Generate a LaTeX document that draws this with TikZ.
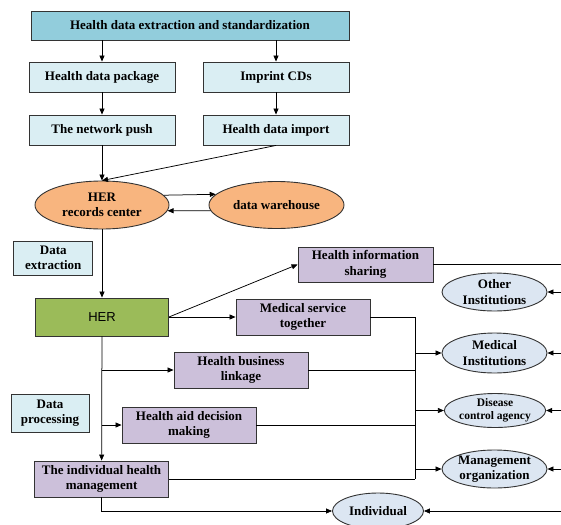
\documentclass[tikz,border=0pt]{standalone}
\usepackage{fontspec}
\setmainfont{Liberation Serif}
\newfontfamily\herfont{Liberation Sans}
\usetikzlibrary{shapes.geometric,arrows.meta}

\definecolor{topfill}{HTML}{92CDDC}
\definecolor{paleaqua}{HTML}{DAEEF3}
\definecolor{herfill}{HTML}{9BBB59}
\definecolor{lavender}{HTML}{CCC0DA}
\definecolor{peach}{HTML}{F8B57F}
\definecolor{paleblue}{HTML}{DCE6F2}
\definecolor{edge}{HTML}{333333}

\tikzset{
  txt/.style={font=\bfseries\fontsize{13}{15.5}\selectfont, align=center, inner sep=0pt},
  boxshape/.style={txt, rectangle, draw=edge, line width=0.9pt},
  topbox/.style={boxshape, fill=topfill},
  aquabox/.style={boxshape, fill=paleaqua},
  lilacbox/.style={boxshape, fill=lavender},
  greenbox/.style={boxshape, fill=herfill, font=\herfont\fontsize{13}{15}\selectfont},
  orangeoval/.style={txt, ellipse, draw=edge, line width=0.9pt, fill=peach},
  blueoval/.style={txt, ellipse, draw=edge, line width=0.9pt, fill=paleblue},
  link/.style={draw=black, line width=0.75pt},
  arr/.style={link, -{Triangle[length=6pt,width=5pt]}},
}

\begin{document}
\begin{tikzpicture}[x=1pt,y=-1pt]
\useasboundingbox (0,0) rectangle (561,524);
\clip (0,0) rectangle (561,524);

% extraction and delivery
\node[topbox, minimum width=318pt, minimum height=29pt] (top) at (190,25.5) {Health data extraction and standardization};
\node[aquabox, minimum width=146pt, minimum height=30pt] (pkg) at (102,77) {Health data package};
\node[aquabox, minimum width=146pt, minimum height=30pt] (cds) at (276,77) {Imprint CDs};
\node[aquabox, minimum width=146pt, minimum height=30pt] (push) at (102,130) {The network push};
\node[aquabox, minimum width=146pt, minimum height=30pt] (imp) at (276,130) {Health data import};

% record center and warehouse
\node[orangeoval, minimum width=134pt, minimum height=48pt] (hrc) at (102,205) {HER\\records center};
\node[orangeoval, minimum width=135pt, minimum height=47pt] (dw) at (276.5,205) {data warehouse};

\node[aquabox, minimum width=79pt, minimum height=34pt] (dex) at (53.3,258) {Data\\extraction};
\node[greenbox, minimum width=133pt, minimum height=38pt] (her) at (102,317) {HER};

% services
\node[lilacbox, minimum width=135pt, minimum height=35pt] (his) at (365.5,264.5) {Health information\\sharing};
\node[lilacbox, minimum width=134pt, minimum height=36pt] (mst) at (303,317) {Medical service\\together};
\node[lilacbox, minimum width=134pt, minimum height=36pt] (hbl) at (241,370) {Health business\\linkage};
\node[aquabox, minimum width=78pt, minimum height=38pt] (dpr) at (50,413) {Data\\processing};
\node[lilacbox, minimum width=134pt, minimum height=36pt] (had) at (189,425) {Health aid decision\\making};
\node[lilacbox, minimum width=134pt, minimum height=36pt] (ihm) at (101.6,479) {The individual health\\management};

% consumers
\node[blueoval, minimum width=105pt, minimum height=38pt] (oth) at (494.5,292) {Other\\Institutions};
\node[blueoval, minimum width=105pt, minimum height=40pt] (med) at (494.5,353) {Medical\\Institutions};
\node[blueoval, minimum width=100pt, minimum height=34pt, font=\bfseries\fontsize{11.5}{13}\selectfont] (dis) at (495,410.5) {Disease\\control agency};
\node[blueoval, minimum width=105pt, minimum height=38pt] (mgo) at (494.5,469) {Management\\organization};
\node[blueoval, minimum width=91pt, minimum height=36pt] (ind) at (378,511) {Individual};

% bus lines
\coordinate (rbus) at (575,264.5);
\coordinate (cbus) at (415,317);

% connectors: extraction chain
\draw[arr] (top.south -| pkg.north) -- (pkg.north);
\draw[arr] (top.south -| cds.north) -- (cds.north);
\draw[arr] (pkg) -- (push);
\draw[arr] (cds) -- (imp);
\draw[arr] (push) -- (hrc);
\draw[arr] (imp.south) -- (hrc.north);
\draw[arr] (hrc.9) -- (dw.170);
\draw[arr] (dw.185) -- (hrc.-5);
\draw[arr] (hrc) -- (her);

% HER to services
\draw[arr] (her.east) -- (his.west);
\draw[arr] (her.east) -- (mst.west);
\draw[arr] (her) -- (ihm);
\draw[arr] (hbl.west -| her.south) -- (hbl.west);
\draw[arr] (had.west -| her.south) -- (had.west);

% services to collector
\draw[link] (mst.east) -- (mst.east -| cbus) -- (ihm.east -| cbus);
\draw[link] (hbl.east) -- (hbl.east -| cbus);
\draw[link] (had.east) -- (had.east -| cbus);
\draw[link] (ihm.east) -- (ihm.east -| cbus);
\draw[arr] (med.west -| cbus) -- (med.west);
\draw[arr] (dis.west -| cbus) -- (dis.west);
\draw[arr] (mgo.west -| cbus) -- (mgo.west);
\draw[arr] (ihm.south) |- (ind.west);

% sharing line along the right side
\draw[link] (his.east) -- (rbus) -- (rbus |- ind.east);
\draw[arr] (oth.east -| rbus) -- (oth.east);
\draw[arr] (med.east -| rbus) -- (med.east);
\draw[arr] (dis.east -| rbus) -- (dis.east);
\draw[arr] (mgo.east -| rbus) -- (mgo.east);
\draw[arr] (ind.east -| rbus) -- (ind.east);
\end{tikzpicture}
\end{document}
